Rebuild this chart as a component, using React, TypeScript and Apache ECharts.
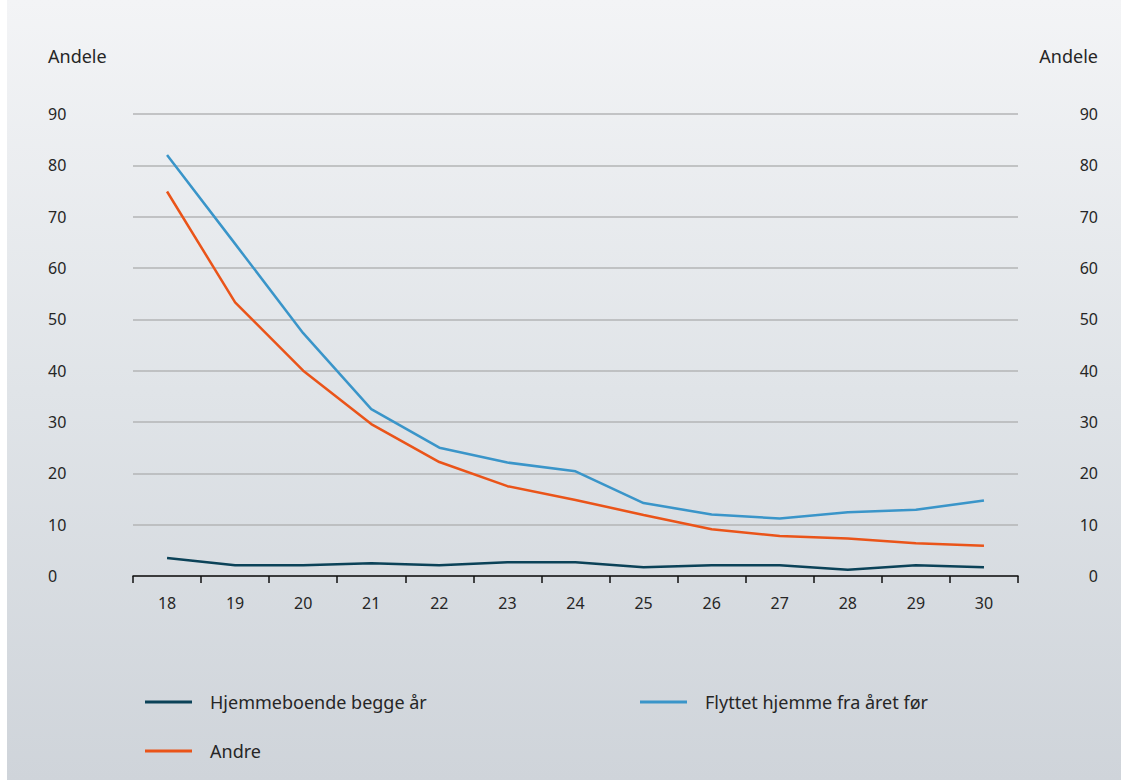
import React, { useEffect, useRef } from "react";
import * as echarts from "echarts";

const ages = ["18", "19", "20", "21", "22", "23", "24", "25", "26", "27", "28", "29", "30"];
const hjemmeboende = [3.5, 2.1, 2.1, 2.5, 2.1, 2.7, 2.7, 1.7, 2.1, 2.1, 1.2, 2.1, 1.7];
const flyttet = [82.0, 64.7, 47.3, 32.5, 25.0, 22.1, 20.4, 14.2, 12.0, 11.2, 12.4, 12.9, 14.7];
const andre = [74.9, 53.3, 40.0, 29.6, 22.2, 17.5, 14.8, 11.9, 9.1, 7.8, 7.3, 6.4, 5.9];
const seriesNames = ["Hjemmeboende begge år", "Flyttet hjemme fra året før", "Andre"];
const colors = ["#0b4258", "#3a95c9", "#ea5419"];
const axisTitle = "Andele";

const FONT = "'Noto Sans', 'Open Sans', sans-serif";
const TEXT = "#262626";

export default function App() {
  const ref = useRef<HTMLDivElement>(null);
  useEffect(() => {
    if (!ref.current) return;
    const chart = echarts.init(ref.current, undefined, { renderer: "svg" });
    const legendBase = {
      orient: "horizontal",
      itemWidth: 47,
      itemHeight: 3,
      icon: "rect",
      textStyle: { fontFamily: FONT, fontSize: 18, color: TEXT, padding: [0, 0, 0, 13] },
      selectedMode: false,
    };
    chart.setOption({
      animation: false,
      textStyle: { fontFamily: FONT },
      grid: { left: 126, right: 103, top: 114, bottom: 204, containLabel: false },
      xAxis: {
        type: "category",
        data: ages,
        boundaryGap: true,
        axisLine: { lineStyle: { color: "#111", width: 1.5 } },
        axisTick: { show: true, length: 7, lineStyle: { color: "#111", width: 1.5 } },
        axisLabel: { fontFamily: FONT, fontSize: 16, color: TEXT, margin: 19 },
      },
      yAxis: [
        {
          type: "value",
          min: 0,
          max: 90,
          interval: 10,
          position: "left",
          axisLine: { show: false },
          axisTick: { show: false },
          splitLine: { lineStyle: { color: "#b3b4b6", width: 1.5 } },
          axisLabel: { fontFamily: FONT, fontSize: 16, color: TEXT, align: "left", margin: 85, padding: [0, 0, 3, 0] },
        },
        {
          type: "value",
          min: 0,
          max: 90,
          interval: 10,
          position: "right",
          axisLine: { show: false },
          axisTick: { show: false },
          splitLine: { show: false },
          axisLabel: { fontFamily: FONT, fontSize: 16, color: TEXT, align: "right", margin: 80, padding: [0, 0, 3, 0] },
        },
      ],
      legend: [
        { ...legendBase, data: [seriesNames[0]], left: 133, top: 688 },
        { ...legendBase, data: [seriesNames[1]], left: 628, top: 688 },
        { ...legendBase, data: [seriesNames[2]], left: 133, top: 737 },
      ],
      graphic: [
        { type: "text", left: 41, top: 47, style: { text: axisTitle, font: `18px ${FONT}`, fill: TEXT } },
        { type: "text", right: 23, top: 47, style: { text: axisTitle, font: `18px ${FONT}`, fill: TEXT } },
      ],
      series: [
        { name: seriesNames[0], type: "line", data: hjemmeboende, color: colors[0] },
        { name: seriesNames[1], type: "line", data: flyttet, color: colors[1] },
        { name: seriesNames[2], type: "line", data: andre, color: colors[2] },
      ].map((s) => ({
        ...s,
        showSymbol: false,
        symbol: "none",
        lineStyle: { width: 2.5, color: s.color },
        itemStyle: { color: s.color },
      })),
    });
    return () => chart.dispose();
  }, []);
  return (
    <div
      style={{
        position: "absolute",
        left: 7,
        top: 0,
        width: 1114,
        height: 780,
        background: "linear-gradient(to bottom, #f3f4f6 0%, #e0e4e8 50%, #cfd4da 100%)",
      }}
    >
      <div ref={ref} style={{ width: 1114, height: 780 }} />
    </div>
  );
}
